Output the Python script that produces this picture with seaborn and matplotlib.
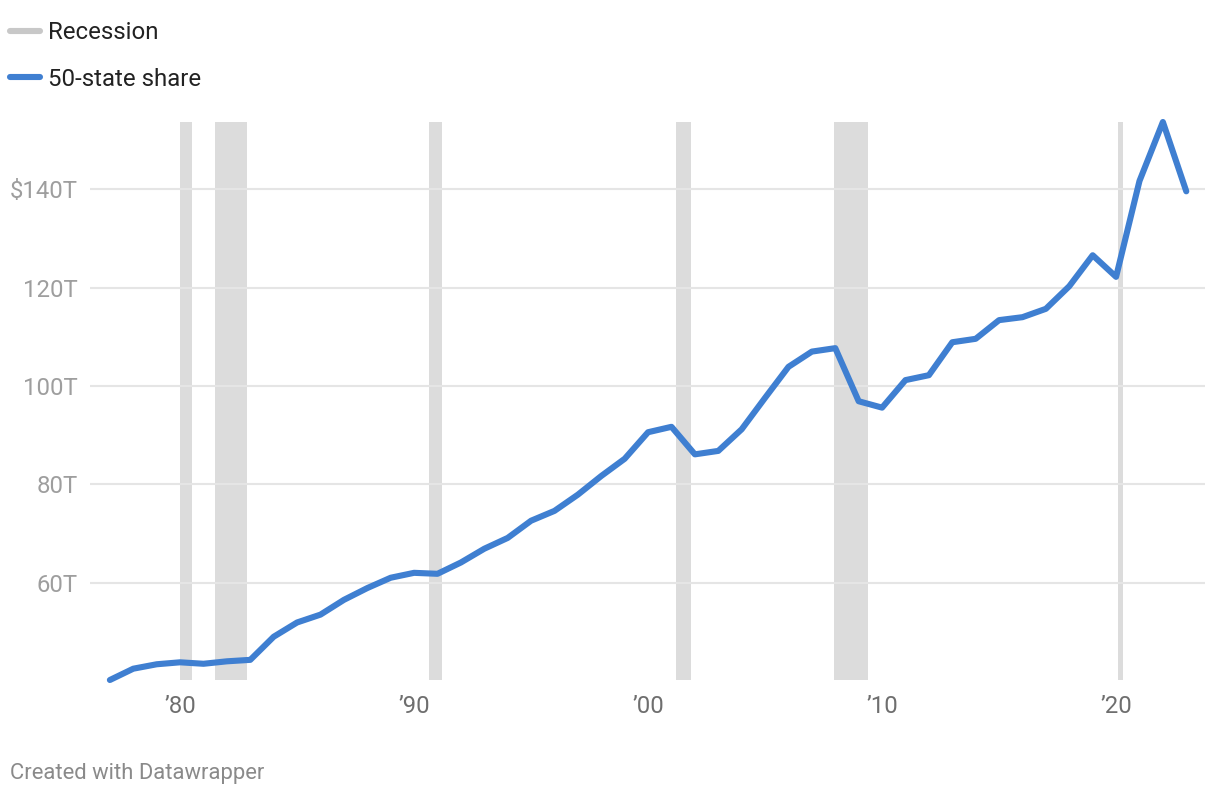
import matplotlib
matplotlib.use("Agg")
import matplotlib.pyplot as plt
from matplotlib.lines import Line2D
import seaborn as sns
import pandas as pd

years = list(range(1977, 2024))
share = [40.2, 42.5, 43.4, 43.8, 43.5, 44.0, 44.3, 49.0, 51.9, 53.5,
         56.5, 58.9, 61.0, 62.0, 61.8, 64.1, 66.9, 69.1, 72.6, 74.6,
         77.9, 81.7, 85.2, 90.6, 91.7, 86.1, 86.8, 91.2, 97.6, 103.9,
         107.0, 107.7, 96.9, 95.6, 101.2, 102.2, 108.9, 109.6, 113.4, 114.0,
         115.7, 120.3, 126.6, 122.2, 141.7, 153.7, 139.6]

rec_start = [1980.0, 1981.5, 1990.65, 2001.2, 2007.95, 2020.1]
rec_end = [1980.5, 1982.85, 1991.2, 2001.85, 2009.4, 2020.3]

yticks = [60, 80, 100, 120, 140]
ytick_labels = ["60T", "80T", "100T", "120T", "$140T"]
xticks = [1980, 1990, 2000, 2010, 2020]
xtick_labels = ["\u201980", "\u201990", "\u201900", "\u201910", "\u201920"]

BLUE = "#3f7fd1"
GRAY_BAND = "#dcdcdc"
GRAY_LEG = "#c8c8c8"

sns.set_theme(style="white")
plt.rcParams["font.family"] = ["Roboto", "DejaVu Sans"]

df = pd.DataFrame({"year": years, "share": share})

fig = plt.figure(figsize=(12.2, 7.96), dpi=100)
ax = fig.add_axes([90 / 1220, 116 / 796, 1115 / 1220, 558 / 796])

for s, e in zip(rec_start, rec_end):
    ax.axvspan(s, e, color=GRAY_BAND, lw=0, zorder=0.2)

sns.lineplot(data=df, x="year", y="share", ax=ax, color=BLUE, lw=4.4,
             zorder=3, clip_on=False, solid_capstyle="round",
             solid_joinstyle="round")

ax.set_xlim(1976.15, 2023.8)
ax.set_ylim(40.2, 153.7)
ax.set_xticks(xticks)
ax.set_xticklabels(xtick_labels)
ax.set_yticks(yticks)
ax.set_yticklabels(ytick_labels)
ax.set_xlabel("")
ax.set_ylabel("")

ax.set_axisbelow(True)
ax.yaxis.grid(True, color="#e5e5e5", lw=1.5, zorder=0.5)
ax.xaxis.grid(False)
for sp in ax.spines.values():
    sp.set_visible(False)
ax.tick_params(axis="y", length=0, pad=9, labelsize=17.2, labelcolor="#9e9e9e")
ax.tick_params(axis="x", length=0, pad=11, labelsize=17.2, labelcolor="#6e6e6e")

handles = [
    Line2D([], [], color=GRAY_LEG, lw=4.4, solid_capstyle="round"),
    Line2D([], [], color=BLUE, lw=4.4, solid_capstyle="round"),
]
labels = ["Recession", "50-state share"]
fig.legend(handles, labels, loc="upper left", bbox_to_anchor=(10 / 1220, 1 - 21 / 796),
           frameon=False, fontsize=17.3, handlelength=1.25, handletextpad=0.35,
           labelspacing=0.98, borderpad=0, borderaxespad=0, labelcolor="#222222")

fig.text(10 / 1220, 1 - 773 / 796, "Created with Datawrapper", fontsize=15.8,
         color="#8a8a8a", va="center", ha="left")

fig.savefig("out.png", dpi=100, facecolor="white")
